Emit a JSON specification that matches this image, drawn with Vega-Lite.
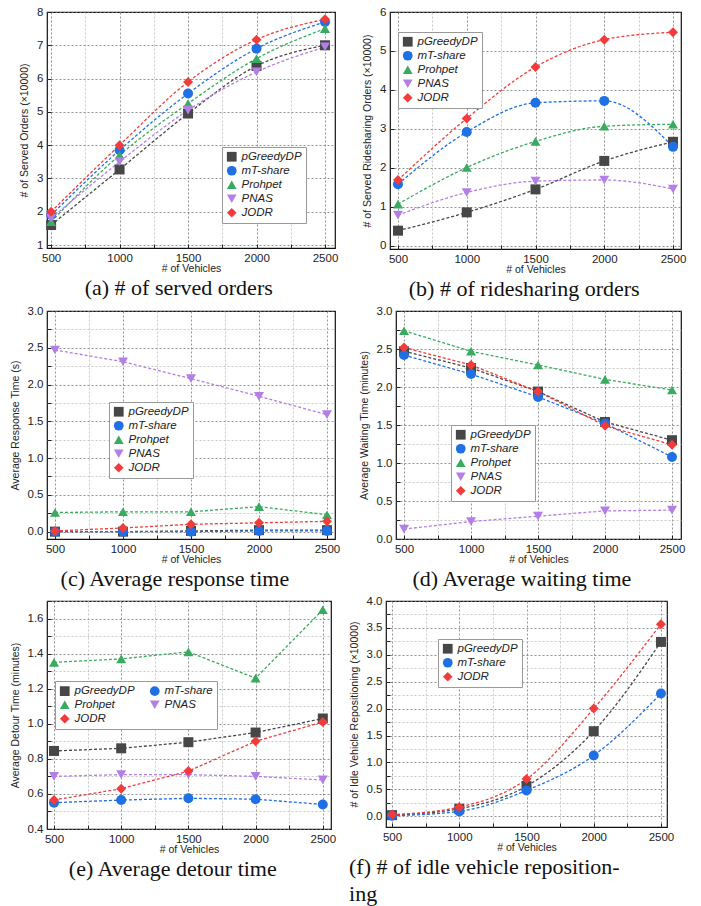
{
  "$schema": "https://vega.github.io/schema/vega-lite/v6.json",
  "padding": {"left": 9, "top": 5, "right": 2, "bottom": 0},
  "background": "white",
  "config": {
    "view": {"stroke": "#111", "strokeWidth": 1.2},
    "axis": {"domain": false, "labelFont": "Liberation Sans", "labelFontSize": 11.5, "labelColor": "#222", "titleFont": "Liberation Sans", "titleFontSize": 10.5, "titleFontWeight": "normal", "titleColor": "#222", "tickColor": "#222", "tickSize": -4, "labelPadding": 8, "gridDash": [2, 2], "gridColor": "#999", "gridWidth": 0.8, "labelFlush": false, "labelOverlap": false},
    "axisX": {"titlePadding": 0},
    "axisY": {"titlePadding": 7},
    "legend": {"labelFont": "Liberation Sans", "labelFontStyle": "italic", "labelFontSize": 11.5, "labelColor": "#222", "fillColor": "white", "strokeColor": "#999", "padding": 4, "rowPadding": 1, "symbolSize": 95, "symbolStrokeWidth": 0, "symbolOpacity": 1},
    "title": {"font": "Liberation Serif", "fontSize": 22, "fontWeight": "normal", "color": "#111", "orient": "bottom", "frame": "bounds", "anchor": "middle", "offset": 0, "lineHeight": 27}
  },
  "datasets": {
    "a": [
      {"vehicles": 500, "method": "pGreedyDP", "value": 1.6}, {"vehicles": 1000, "method": "pGreedyDP", "value": 3.27}, {"vehicles": 1500, "method": "pGreedyDP", "value": 4.95}, {"vehicles": 2000, "method": "pGreedyDP", "value": 6.38}, {"vehicles": 2500, "method": "pGreedyDP", "value": 7.0},
      {"vehicles": 500, "method": "mT-share", "value": 1.9}, {"vehicles": 1000, "method": "mT-share", "value": 3.85}, {"vehicles": 1500, "method": "mT-share", "value": 5.55}, {"vehicles": 2000, "method": "mT-share", "value": 6.9}, {"vehicles": 2500, "method": "mT-share", "value": 7.7},
      {"vehicles": 500, "method": "Prohpet", "value": 1.7}, {"vehicles": 1000, "method": "Prohpet", "value": 3.7}, {"vehicles": 1500, "method": "Prohpet", "value": 5.25}, {"vehicles": 2000, "method": "Prohpet", "value": 6.6}, {"vehicles": 2500, "method": "Prohpet", "value": 7.5},
      {"vehicles": 500, "method": "PNAS", "value": 1.8}, {"vehicles": 1000, "method": "PNAS", "value": 3.5}, {"vehicles": 1500, "method": "PNAS", "value": 5.05}, {"vehicles": 2000, "method": "PNAS", "value": 6.2}, {"vehicles": 2500, "method": "PNAS", "value": 6.95},
      {"vehicles": 500, "method": "JODR", "value": 2.0}, {"vehicles": 1000, "method": "JODR", "value": 4.0}, {"vehicles": 1500, "method": "JODR", "value": 5.9}, {"vehicles": 2000, "method": "JODR", "value": 7.17}, {"vehicles": 2500, "method": "JODR", "value": 7.78}
    ],
    "b": [
      {"vehicles": 500, "method": "pGreedyDP", "value": 0.39}, {"vehicles": 1000, "method": "pGreedyDP", "value": 0.86}, {"vehicles": 1500, "method": "pGreedyDP", "value": 1.45}, {"vehicles": 2000, "method": "pGreedyDP", "value": 2.18}, {"vehicles": 2500, "method": "pGreedyDP", "value": 2.67},
      {"vehicles": 500, "method": "mT-share", "value": 1.58}, {"vehicles": 1000, "method": "mT-share", "value": 2.92}, {"vehicles": 1500, "method": "mT-share", "value": 3.67}, {"vehicles": 2000, "method": "mT-share", "value": 3.72}, {"vehicles": 2500, "method": "mT-share", "value": 2.54},
      {"vehicles": 500, "method": "Prohpet", "value": 1.07}, {"vehicles": 1000, "method": "Prohpet", "value": 2.01}, {"vehicles": 1500, "method": "Prohpet", "value": 2.68}, {"vehicles": 2000, "method": "Prohpet", "value": 3.07}, {"vehicles": 2500, "method": "Prohpet", "value": 3.12},
      {"vehicles": 500, "method": "PNAS", "value": 0.79}, {"vehicles": 1000, "method": "PNAS", "value": 1.37}, {"vehicles": 1500, "method": "PNAS", "value": 1.66}, {"vehicles": 2000, "method": "PNAS", "value": 1.69}, {"vehicles": 2500, "method": "PNAS", "value": 1.46},
      {"vehicles": 500, "method": "JODR", "value": 1.69}, {"vehicles": 1000, "method": "JODR", "value": 3.27}, {"vehicles": 1500, "method": "JODR", "value": 4.59}, {"vehicles": 2000, "method": "JODR", "value": 5.29}, {"vehicles": 2500, "method": "JODR", "value": 5.48}
    ],
    "c": [
      {"vehicles": 500, "method": "pGreedyDP", "value": 0.0}, {"vehicles": 1000, "method": "pGreedyDP", "value": 0.0}, {"vehicles": 1500, "method": "pGreedyDP", "value": 0.01}, {"vehicles": 2000, "method": "pGreedyDP", "value": 0.02}, {"vehicles": 2500, "method": "pGreedyDP", "value": 0.02},
      {"vehicles": 500, "method": "mT-share", "value": 0.0}, {"vehicles": 1000, "method": "mT-share", "value": 0.0}, {"vehicles": 1500, "method": "mT-share", "value": 0.0}, {"vehicles": 2000, "method": "mT-share", "value": 0.01}, {"vehicles": 2500, "method": "mT-share", "value": 0.01},
      {"vehicles": 500, "method": "Prohpet", "value": 0.26}, {"vehicles": 1000, "method": "Prohpet", "value": 0.27}, {"vehicles": 1500, "method": "Prohpet", "value": 0.27}, {"vehicles": 2000, "method": "Prohpet", "value": 0.34}, {"vehicles": 2500, "method": "Prohpet", "value": 0.23},
      {"vehicles": 500, "method": "PNAS", "value": 2.47}, {"vehicles": 1000, "method": "PNAS", "value": 2.31}, {"vehicles": 1500, "method": "PNAS", "value": 2.08}, {"vehicles": 2000, "method": "PNAS", "value": 1.84}, {"vehicles": 2500, "method": "PNAS", "value": 1.59},
      {"vehicles": 500, "method": "JODR", "value": 0.01}, {"vehicles": 1000, "method": "JODR", "value": 0.05}, {"vehicles": 1500, "method": "JODR", "value": 0.10}, {"vehicles": 2000, "method": "JODR", "value": 0.12}, {"vehicles": 2500, "method": "JODR", "value": 0.14}
    ],
    "d": [
      {"vehicles": 500, "method": "pGreedyDP", "value": 2.47}, {"vehicles": 1000, "method": "pGreedyDP", "value": 2.25}, {"vehicles": 1500, "method": "pGreedyDP", "value": 1.94}, {"vehicles": 2000, "method": "pGreedyDP", "value": 1.54}, {"vehicles": 2500, "method": "pGreedyDP", "value": 1.30},
      {"vehicles": 500, "method": "mT-share", "value": 2.42}, {"vehicles": 1000, "method": "mT-share", "value": 2.17}, {"vehicles": 1500, "method": "mT-share", "value": 1.87}, {"vehicles": 2000, "method": "mT-share", "value": 1.52}, {"vehicles": 2500, "method": "mT-share", "value": 1.08},
      {"vehicles": 500, "method": "Prohpet", "value": 2.74}, {"vehicles": 1000, "method": "Prohpet", "value": 2.47}, {"vehicles": 1500, "method": "Prohpet", "value": 2.29}, {"vehicles": 2000, "method": "Prohpet", "value": 2.10}, {"vehicles": 2500, "method": "Prohpet", "value": 1.96},
      {"vehicles": 500, "method": "PNAS", "value": 0.13}, {"vehicles": 1000, "method": "PNAS", "value": 0.23}, {"vehicles": 1500, "method": "PNAS", "value": 0.30}, {"vehicles": 2000, "method": "PNAS", "value": 0.37}, {"vehicles": 2500, "method": "PNAS", "value": 0.38},
      {"vehicles": 500, "method": "JODR", "value": 2.52}, {"vehicles": 1000, "method": "JODR", "value": 2.29}, {"vehicles": 1500, "method": "JODR", "value": 1.94}, {"vehicles": 2000, "method": "JODR", "value": 1.49}, {"vehicles": 2500, "method": "JODR", "value": 1.24}
    ],
    "e": [
      {"vehicles": 500, "method": "pGreedyDP", "value": 0.845}, {"vehicles": 1000, "method": "pGreedyDP", "value": 0.86}, {"vehicles": 1500, "method": "pGreedyDP", "value": 0.895}, {"vehicles": 2000, "method": "pGreedyDP", "value": 0.95}, {"vehicles": 2500, "method": "pGreedyDP", "value": 1.03},
      {"vehicles": 500, "method": "mT-share", "value": 0.55}, {"vehicles": 1000, "method": "mT-share", "value": 0.565}, {"vehicles": 1500, "method": "mT-share", "value": 0.575}, {"vehicles": 2000, "method": "mT-share", "value": 0.57}, {"vehicles": 2500, "method": "mT-share", "value": 0.54},
      {"vehicles": 500, "method": "Prohpet", "value": 1.35}, {"vehicles": 1000, "method": "Prohpet", "value": 1.37}, {"vehicles": 1500, "method": "Prohpet", "value": 1.41}, {"vehicles": 2000, "method": "Prohpet", "value": 1.26}, {"vehicles": 2500, "method": "Prohpet", "value": 1.65},
      {"vehicles": 500, "method": "PNAS", "value": 0.70}, {"vehicles": 1000, "method": "PNAS", "value": 0.71}, {"vehicles": 1500, "method": "PNAS", "value": 0.71}, {"vehicles": 2000, "method": "PNAS", "value": 0.70}, {"vehicles": 2500, "method": "PNAS", "value": 0.68},
      {"vehicles": 500, "method": "JODR", "value": 0.565}, {"vehicles": 1000, "method": "JODR", "value": 0.63}, {"vehicles": 1500, "method": "JODR", "value": 0.73}, {"vehicles": 2000, "method": "JODR", "value": 0.90}, {"vehicles": 2500, "method": "JODR", "value": 1.01}
    ],
    "f": [
      {"vehicles": 500, "method": "pGreedyDP", "value": 0.02}, {"vehicles": 1000, "method": "pGreedyDP", "value": 0.14}, {"vehicles": 1500, "method": "pGreedyDP", "value": 0.56}, {"vehicles": 2000, "method": "pGreedyDP", "value": 1.58}, {"vehicles": 2500, "method": "pGreedyDP", "value": 3.24},
      {"vehicles": 500, "method": "mT-share", "value": 0.01}, {"vehicles": 1000, "method": "mT-share", "value": 0.09}, {"vehicles": 1500, "method": "mT-share", "value": 0.48}, {"vehicles": 2000, "method": "mT-share", "value": 1.13}, {"vehicles": 2500, "method": "mT-share", "value": 2.28},
      {"vehicles": 500, "method": "JODR", "value": 0.03}, {"vehicles": 1000, "method": "JODR", "value": 0.17}, {"vehicles": 1500, "method": "JODR", "value": 0.69}, {"vehicles": 2000, "method": "JODR", "value": 2.0}, {"vehicles": 2500, "method": "JODR", "value": 3.57}
    ]
  },
  "spacing": 3,
  "resolve": {"scale": {"color": "independent", "shape": "independent"}, "legend": {"color": "independent", "shape": "independent"}},
  "vconcat": [
    {
      "spacing": 23,
      "resolve": {"scale": {"color": "independent", "shape": "independent"}, "legend": {"color": "independent", "shape": "independent"}},
      "hconcat": [
        {
          "width": 288, "height": 236,
          "title": {"text": "(a) # of served orders"},
          "data": {"name": "a"},
          "encoding": {
            "x": {"field": "vehicles", "type": "quantitative", "scale": {"domain": [470, 2573], "nice": false, "zero": false}, "axis": {"title": "# of Vehicles", "values": [500, 750, 1000, 1250, 1500, 1750, 2000, 2250, 2500], "format": "d", "labelExpr": "datum.value % 500 == 0 ? datum.label : ''", "gridColor": {"condition": {"test": "datum.value % 500 == 0", "value": "#777"}, "value": "#bbb"}}},
            "y": {"field": "value", "type": "quantitative", "scale": {"domain": [0.91, 8], "nice": false, "zero": false}, "axis": {"title": "# of Served Orders (×10000)", "values": [1, 1.5, 2, 2.5, 3, 3.5, 4, 4.5, 5, 5.5, 6, 6.5, 7, 7.5, 8], "format": "d", "labelExpr": "datum.value % 1 == 0 ? datum.label : ''", "gridColor": {"condition": {"test": "datum.value % 1 == 0", "value": "#777"}, "value": "#bbb"}}},
            "color": {"field": "method", "type": "nominal", "scale": {"domain": ["pGreedyDP", "mT-share", "Prohpet", "PNAS", "JODR"], "range": ["#474747", "#1f6fe5", "#38ab5e", "#b37ee8", "#f23c3c"]}, "legend": {"title": null, "orient": "none", "legendX": 175, "legendY": 135}}
          },
          "layer": [
            {"mark": {"type": "line", "strokeDash": [3, 2], "strokeWidth": 1.3, "interpolate": "monotone"}},
            {"mark": {"type": "point", "filled": true, "size": 100, "opacity": 1}, "encoding": {"shape": {"field": "method", "type": "nominal", "scale": {"domain": ["pGreedyDP", "mT-share", "Prohpet", "PNAS", "JODR"], "range": ["square", "circle", "triangle-up", "triangle-down", "diamond"]}, "legend": {"title": null, "orient": "none", "legendX": 175, "legendY": 135}}}}
          ]
        },
        {
          "width": 291, "height": 237,
          "title": {"text": "(b) # of ridesharing orders"},
          "data": {"name": "b"},
          "encoding": {
            "x": {"field": "vehicles", "type": "quantitative", "scale": {"domain": [442, 2558], "nice": false, "zero": false}, "axis": {"title": "# of Vehicles", "values": [500, 750, 1000, 1250, 1500, 1750, 2000, 2250, 2500], "format": "d", "labelExpr": "datum.value % 500 == 0 ? datum.label : ''", "gridColor": {"condition": {"test": "datum.value % 500 == 0", "value": "#777"}, "value": "#bbb"}}},
            "y": {"field": "value", "type": "quantitative", "scale": {"domain": [-0.08, 6], "nice": false, "zero": false}, "axis": {"title": "# of Served Ridesharing Orders (×10000)", "values": [0, 0.5, 1, 1.5, 2, 2.5, 3, 3.5, 4, 4.5, 5, 5.5, 6], "format": "d", "labelExpr": "datum.value % 1 == 0 ? datum.label : ''", "gridColor": {"condition": {"test": "datum.value % 1 == 0", "value": "#777"}, "value": "#bbb"}}},
            "color": {"field": "method", "type": "nominal", "scale": {"domain": ["pGreedyDP", "mT-share", "Prohpet", "PNAS", "JODR"], "range": ["#474747", "#1f6fe5", "#38ab5e", "#b37ee8", "#f23c3c"]}, "legend": {"title": null, "orient": "none", "legendX": 8, "legendY": 20}}
          },
          "layer": [
            {"mark": {"type": "line", "strokeDash": [3, 2], "strokeWidth": 1.3, "interpolate": "monotone"}},
            {"mark": {"type": "point", "filled": true, "size": 100, "opacity": 1}, "encoding": {"shape": {"field": "method", "type": "nominal", "scale": {"domain": ["pGreedyDP", "mT-share", "Prohpet", "PNAS", "JODR"], "range": ["square", "circle", "triangle-up", "triangle-down", "diamond"]}, "legend": {"title": null, "orient": "none", "legendX": 8, "legendY": 20}}}}
          ]
        }
      ]
    },
    {
      "spacing": 17,
      "resolve": {"scale": {"color": "independent", "shape": "independent"}, "legend": {"color": "independent", "shape": "independent"}},
      "hconcat": [
        {
          "width": 288, "height": 228,
          "title": {"text": "(c) Average response time"},
          "data": {"name": "c"},
          "encoding": {
            "x": {"field": "vehicles", "type": "quantitative", "scale": {"domain": [441, 2559], "nice": false, "zero": false}, "axis": {"title": "# of Vehicles", "values": [500, 750, 1000, 1250, 1500, 1750, 2000, 2250, 2500], "format": "d", "labelExpr": "datum.value % 500 == 0 ? datum.label : ''", "gridColor": {"condition": {"test": "datum.value % 500 == 0", "value": "#777"}, "value": "#bbb"}}},
            "y": {"field": "value", "type": "quantitative", "scale": {"domain": [-0.1, 3], "nice": false, "zero": false}, "axis": {"title": "Average Response Time (s)", "values": [0, 0.25, 0.5, 0.75, 1, 1.25, 1.5, 1.75, 2, 2.25, 2.5, 2.75, 3], "format": ".1f", "labelExpr": "datum.value % 0.5 == 0 ? datum.label : ''", "gridColor": {"condition": {"test": "datum.value % 0.5 == 0", "value": "#777"}, "value": "#bbb"}}},
            "color": {"field": "method", "type": "nominal", "scale": {"domain": ["pGreedyDP", "mT-share", "Prohpet", "PNAS", "JODR"], "range": ["#474747", "#1f6fe5", "#38ab5e", "#b37ee8", "#f23c3c"]}, "legend": {"title": null, "orient": "none", "legendX": 62, "legendY": 91}}
          },
          "layer": [
            {"mark": {"type": "line", "strokeDash": [3, 2], "strokeWidth": 1.3}},
            {"mark": {"type": "point", "filled": true, "size": 100, "opacity": 1}, "encoding": {"shape": {"field": "method", "type": "nominal", "scale": {"domain": ["pGreedyDP", "mT-share", "Prohpet", "PNAS", "JODR"], "range": ["square", "circle", "triangle-up", "triangle-down", "diamond"]}, "legend": {"title": null, "orient": "none", "legendX": 62, "legendY": 91}}}}
          ]
        },
        {
          "width": 285, "height": 228,
          "title": {"text": "(d) Average waiting time"},
          "data": {"name": "d"},
          "encoding": {
            "x": {"field": "vehicles", "type": "quantitative", "scale": {"domain": [440, 2567], "nice": false, "zero": false}, "axis": {"title": "# of Vehicles", "values": [500, 750, 1000, 1250, 1500, 1750, 2000, 2250, 2500], "format": "d", "labelExpr": "datum.value % 500 == 0 ? datum.label : ''", "gridColor": {"condition": {"test": "datum.value % 500 == 0", "value": "#777"}, "value": "#bbb"}}},
            "y": {"field": "value", "type": "quantitative", "scale": {"domain": [0, 3], "nice": false, "zero": false}, "axis": {"title": "Average Waiting Time (minutes)", "values": [0, 0.25, 0.5, 0.75, 1, 1.25, 1.5, 1.75, 2, 2.25, 2.5, 2.75, 3], "format": ".1f", "labelExpr": "datum.value % 0.5 == 0 ? datum.label : ''", "gridColor": {"condition": {"test": "datum.value % 0.5 == 0", "value": "#777"}, "value": "#bbb"}}},
            "color": {"field": "method", "type": "nominal", "scale": {"domain": ["pGreedyDP", "mT-share", "Prohpet", "PNAS", "JODR"], "range": ["#474747", "#1f6fe5", "#38ab5e", "#b37ee8", "#f23c3c"]}, "legend": {"title": null, "orient": "none", "legendX": 55, "legendY": 114}}
          },
          "layer": [
            {"mark": {"type": "line", "strokeDash": [3, 2], "strokeWidth": 1.3}},
            {"mark": {"type": "point", "filled": true, "size": 100, "opacity": 1}, "encoding": {"shape": {"field": "method", "type": "nominal", "scale": {"domain": ["pGreedyDP", "mT-share", "Prohpet", "PNAS", "JODR"], "range": ["square", "circle", "triangle-up", "triangle-down", "diamond"]}, "legend": {"title": null, "orient": "none", "legendX": 55, "legendY": 114}}}}
          ]
        }
      ]
    },
    {
      "spacing": 11,
      "resolve": {"scale": {"color": "independent", "shape": "independent"}, "legend": {"color": "independent", "shape": "independent"}},
      "hconcat": [
        {
          "width": 284, "height": 228,
          "title": {"text": "(e) Average detour time"},
          "data": {"name": "e"},
          "encoding": {
            "x": {"field": "vehicles", "type": "quantitative", "scale": {"domain": [448, 2561], "nice": false, "zero": false}, "axis": {"title": "# of Vehicles", "values": [500, 750, 1000, 1250, 1500, 1750, 2000, 2250, 2500], "format": "d", "labelExpr": "datum.value % 500 == 0 ? datum.label : ''", "gridColor": {"condition": {"test": "datum.value % 500 == 0", "value": "#777"}, "value": "#bbb"}}},
            "y": {"field": "value", "type": "quantitative", "scale": {"domain": [0.4, 1.7], "nice": false, "zero": false}, "axis": {"title": "Average Detour Time (minutes)", "values": [0.4, 0.5, 0.6, 0.7, 0.8, 0.9, 1.0, 1.1, 1.2, 1.3, 1.4, 1.5, 1.6, 1.7], "format": ".1f", "labelExpr": "round(datum.value * 10) % 2 == 0 ? datum.label : ''", "gridColor": {"condition": {"test": "round(datum.value * 10) % 2 == 0", "value": "#777"}, "value": "#bbb"}}},
            "color": {"field": "method", "type": "nominal", "scale": {"domain": ["pGreedyDP", "mT-share", "Prohpet", "PNAS", "JODR"], "range": ["#474747", "#1f6fe5", "#38ab5e", "#b37ee8", "#f23c3c"]}, "legend": {"title": null, "orient": "none", "legendX": 8, "legendY": 80, "columns": 2, "columnPadding": 14, "values": ["pGreedyDP", "Prohpet", "JODR", "mT-share", "PNAS"]}}
          },
          "layer": [
            {"mark": {"type": "line", "strokeDash": [3, 2], "strokeWidth": 1.3}},
            {"mark": {"type": "point", "filled": true, "size": 100, "opacity": 1}, "encoding": {"shape": {"field": "method", "type": "nominal", "scale": {"domain": ["pGreedyDP", "mT-share", "Prohpet", "PNAS", "JODR"], "range": ["square", "circle", "triangle-up", "triangle-down", "diamond"]}, "legend": {"title": null, "orient": "none", "legendX": 8, "legendY": 80, "columns": 2, "columnPadding": 14, "values": ["pGreedyDP", "Prohpet", "JODR", "mT-share", "PNAS"]}}}}
          ]
        },
        {
          "width": 281, "height": 226,
          "title": {"text": ["(f) # of idle vehicle reposition-", "ing"], "anchor": "start"},
          "data": {"name": "f"},
          "encoding": {
            "x": {"field": "vehicles", "type": "quantitative", "scale": {"domain": [455, 2545], "nice": false, "zero": false}, "axis": {"title": "# of Vehicles", "values": [500, 750, 1000, 1250, 1500, 1750, 2000, 2250, 2500], "format": "d", "labelExpr": "datum.value % 500 == 0 ? datum.label : ''", "gridColor": {"condition": {"test": "datum.value % 500 == 0", "value": "#777"}, "value": "#bbb"}}},
            "y": {"field": "value", "type": "quantitative", "scale": {"domain": [-0.2, 4], "nice": false, "zero": false}, "axis": {"title": "# of Idle Vehicle Repositioning (×10000)", "values": [0, 0.25, 0.5, 0.75, 1, 1.25, 1.5, 1.75, 2, 2.25, 2.5, 2.75, 3, 3.25, 3.5, 3.75, 4], "format": ".1f", "labelExpr": "datum.value % 0.5 == 0 ? datum.label : ''", "gridColor": {"condition": {"test": "datum.value % 0.5 == 0", "value": "#777"}, "value": "#bbb"}}},
            "color": {"field": "method", "type": "nominal", "scale": {"domain": ["pGreedyDP", "mT-share", "JODR"], "range": ["#474747", "#1f6fe5", "#f23c3c"]}, "legend": {"title": null, "orient": "none", "legendX": 52, "legendY": 38}}
          },
          "layer": [
            {"mark": {"type": "line", "strokeDash": [3, 2], "strokeWidth": 1.3, "interpolate": "monotone"}},
            {"mark": {"type": "point", "filled": true, "size": 100, "opacity": 1}, "encoding": {"shape": {"field": "method", "type": "nominal", "scale": {"domain": ["pGreedyDP", "mT-share", "JODR"], "range": ["square", "circle", "diamond"]}, "legend": {"title": null, "orient": "none", "legendX": 52, "legendY": 38}}}}
          ]
        }
      ]
    }
  ]
}
